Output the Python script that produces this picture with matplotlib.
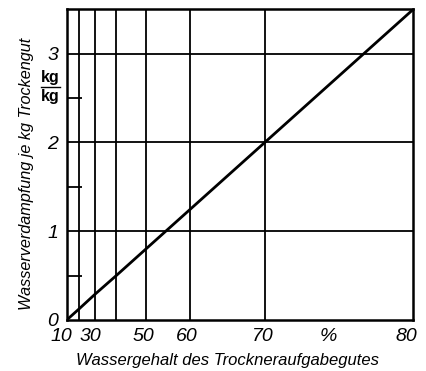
import numpy as np
import matplotlib
matplotlib.use("Agg")
import matplotlib.pyplot as plt
from matplotlib.transforms import ScaledTranslation

# data
water_content = [10, 20, 30, 40, 50, 60, 70, 80]          # % (x)
evaporation = [0.0, 0.125, 0.29, 0.5, 0.8, 1.25, 2.0, 3.5]  # kg/kg dry good (y)
x_ticks = [10, 20, 30, 40, 50, 60, 70, 80]
x_tick_labels = ["10", "", "30", "", "50", "60", "70", "80"]
y_ticks = [0, 1, 2, 3]
y_minor = [0.5, 1.5, 2.5]

plt.rcParams['font.family'] = ["Liberation Sans", "DejaVu Sans"]

fig = plt.figure(figsize=(4.27, 3.71), dpi=100)
ax = fig.add_axes([66.7/427, 1-320/371, (413.3-66.7)/427, (320-9.3)/371])

fwd = lambda w: (np.asarray(w, float) - 10) / (100 - np.asarray(w, float))
inv = lambda t: (10 + 100*np.asarray(t, float)) / (1 + np.asarray(t, float))
ax.set_xscale('function', functions=(fwd, inv))
ax.set_xlim(10, 80)
ax.set_ylim(0, 3.5)

ax.plot(water_content, evaporation, color='black', lw=2.0, solid_capstyle='butt')

for w in x_ticks[1:-1]:
    ax.axvline(w, color='black', lw=1.3)
for y in y_ticks[1:]:
    ax.axhline(y, color='black', lw=1.3)

ax.set_xticks(x_ticks)
ax.set_xticklabels(x_tick_labels, fontsize=14, style='italic')
ax.set_yticks(y_ticks)
ax.set_yticklabels([str(v) for v in y_ticks], fontsize=14, style='italic')
ax.set_yticks(y_minor, minor=True)
ax.tick_params(axis='both', which='major', length=0)
ax.tick_params(axis='x', which='major', pad=6)
ax.tick_params(axis='y', which='major', pad=6)
ax.tick_params(axis='y', which='minor', direction='in', length=11, width=1.3, color='black')
ax.xaxis.set_minor_locator(matplotlib.ticker.NullLocator())
for s in ax.spines.values():
    s.set_linewidth(1.8)

# small leftward shifts of the italic tick labels (pixels)
shifts = [-5, 0, -4.5, 0, -2.5, -4, -2, -7]
for lab, dx in zip(ax.get_xticklabels(), shifts):
    lab.set_transform(lab.get_transform() + ScaledTranslation(dx/100, 0, fig.dpi_scale_trans))

ax.text(0.754, -0.025, "%", transform=ax.transAxes, ha='center', va='top',
        fontsize=14, style='italic')

# kg/kg unit
ax.text(-0.047, 0.757, "kg", transform=ax.transAxes, ha='center', va='bottom',
        fontsize=11.5, fontweight='bold')
ax.text(-0.047, 0.742, "kg", transform=ax.transAxes, ha='center', va='top',
        fontsize=11.5, fontweight='bold')
ax.plot([-0.074, -0.019], [0.749, 0.749], transform=ax.transAxes, color='black',
        lw=1.0, clip_on=False)

fig.text(27/427, 1-174/371, "Wasserverdampfung je kg Trockengut", rotation=90,
         ha='center', va='center', fontsize=11.7, style='italic')
fig.text(228/427, 1-360/371, "Wassergehalt des Trockneraufgabegutes",
         ha='center', va='center', fontsize=12, style='italic')

fig.savefig("out.png", dpi=100)
